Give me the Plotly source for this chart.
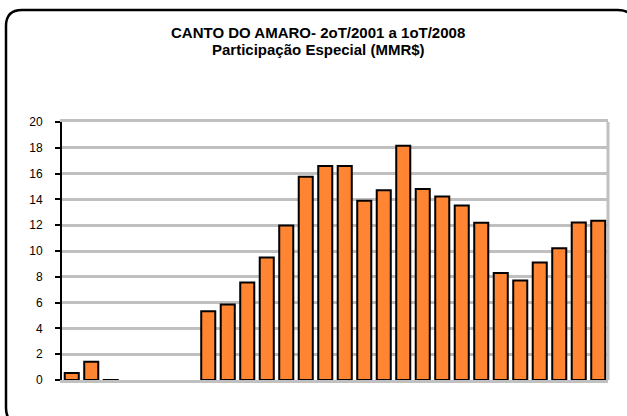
import plotly.graph_objects as go

# quarters 2oT/2001 .. 1oT/2008
quarters = ['2T01', '3T01', '4T01',
            '1T02', '2T02', '3T02', '4T02',
            '1T03', '2T03', '3T03', '4T03',
            '1T04', '2T04', '3T04', '4T04',
            '1T05', '2T05', '3T05', '4T05',
            '1T06', '2T06', '3T06', '4T06',
            '1T07', '2T07', '3T07', '4T07',
            '1T08']
valores = [0.55, 1.42, -0.1,
           None, None, None, None,
           5.33, 5.85, 7.55, 9.5,
           11.98, 15.76, 16.58, 16.58,
           13.9, 14.7, 18.16, 14.8,
           14.23, 13.53, 12.19, 8.3,
           7.71, 9.11, 10.22, 12.21,
           12.34]
yticks = [0, 2, 4, 6, 8, 10, 12, 14, 16, 18, 20]
titulo = ['CANTO DO AMARO- 2oT/2001 a 1oT/2008',
          'Participação Especial (MMR$)']

W, H = 627, 416
L, R, T, B = 62, 19, 122, 36
pw, ph = W - L - R, H - T - B

def px(x):
    return (x - L) / pw

def py(y):
    return (H - B - y) / ph

fig = go.Figure()
fig.add_trace(go.Bar(
    x=quarters, y=valores,
    marker=dict(color='#FF8533', line=dict(color='black', width=2)),
    width=0.72))

# rounded frame around the chart (runs off the right/bottom edge)
x0, y0, x1, y1, r = 6, 10, 634, 424, 16
path = (f"M {px(x0+r)},{py(y0)} L {px(x1-r)},{py(y0)} "
        f"Q {px(x1)},{py(y0)} {px(x1)},{py(y0+r)} L {px(x1)},{py(y1-r)} "
        f"Q {px(x1)},{py(y1)} {px(x1-r)},{py(y1)} L {px(x0+r)},{py(y1)} "
        f"Q {px(x0)},{py(y1)} {px(x0)},{py(y1-r)} L {px(x0)},{py(y0+r)} "
        f"Q {px(x0)},{py(y0)} {px(x0+r)},{py(y0)} Z")
fig.add_shape(type='path', path=path, xref='paper', yref='paper',
              line=dict(color='black', width=2.5), layer='below')
fig.add_shape(type='line', xref='paper', yref='paper', x0=1, x1=1, y0=0, y1=1,
              line=dict(color='#c0c0c0', width=3))

for txt, yy in zip(titulo, [32, 50]):
    fig.add_annotation(text='<b>' + txt + '</b>', xref='paper', yref='paper',
                       x=px(318), y=py(yy), xanchor='center', yanchor='middle',
                       showarrow=False, font=dict(size=15))

fig.update_layout(
    width=W, height=H,
    margin=dict(l=L, r=R, t=T, b=B),
    paper_bgcolor='white', plot_bgcolor='white',
    font=dict(family='Liberation Sans, Arial', size=12, color='black'),
    showlegend=False,
    bargap=0.28,
)
fig.update_yaxes(range=[0, 20], tickvals=yticks, showgrid=True,
                 gridcolor='#c0c0c0', gridwidth=2.5,
                 showline=True, linecolor='black', linewidth=2,
                 ticks='outside', ticklen=5, tickwidth=2, tickcolor='black',
                 ticklabelstandoff=10, zeroline=False)
fig.update_xaxes(showticklabels=False, showline=True, linecolor='#c0c0c0',
                 linewidth=2.5, mirror=True, ticks='')

fig.write_html("out.html", config={'displayModeBar': False},
               post_script="document.body.style.margin='0';")
